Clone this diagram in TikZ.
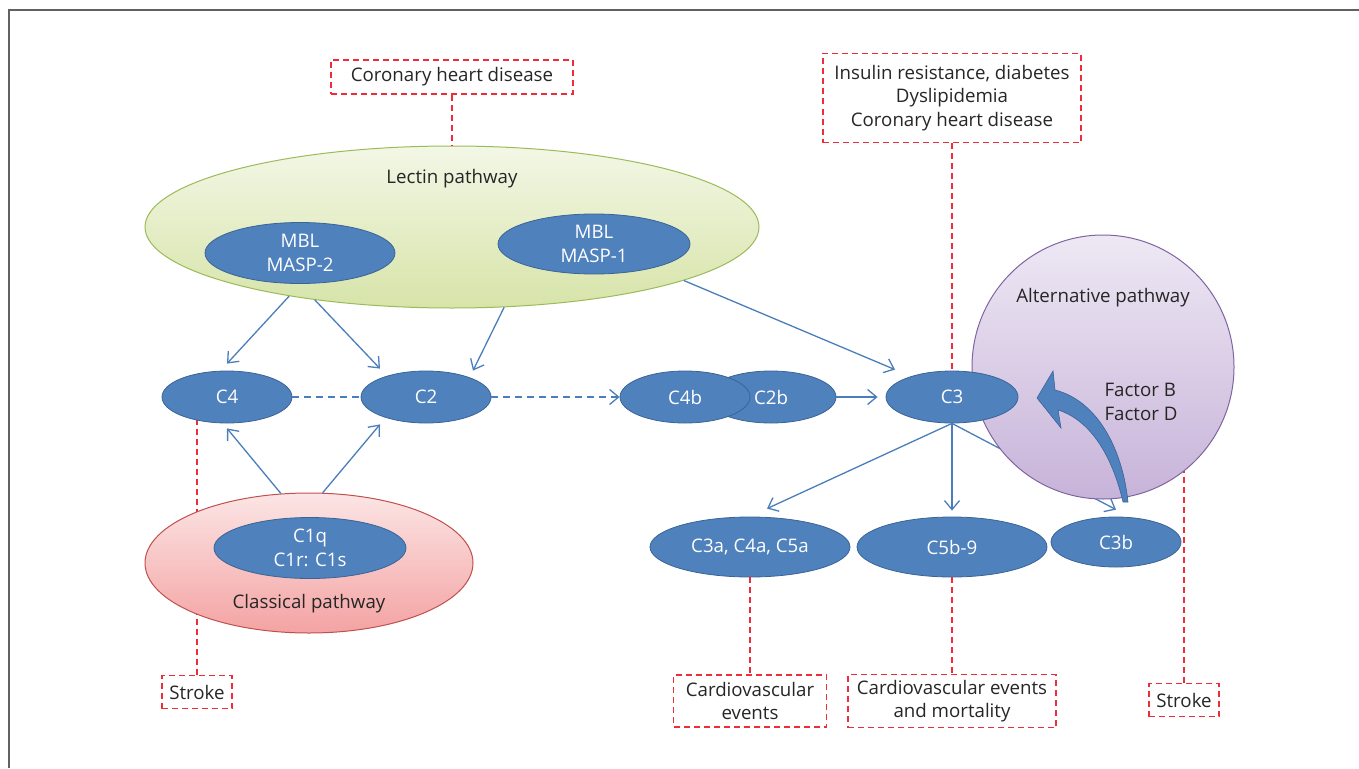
\documentclass[tikz,border=0pt]{standalone}
\usepackage{fontspec}
\setmainfont{Open Sans}
\usetikzlibrary{shapes.geometric,arrows.meta}
\pgfdeclarelayer{back}
\pgfsetlayers{back,main}
\definecolor{cblue}{HTML}{4F81BD}
\definecolor{cblueedge}{HTML}{3A6496}
\definecolor{carrow}{HTML}{4A7EBB}
\definecolor{cred}{HTML}{EE2D3A}
\definecolor{ctext}{HTML}{262626}
\definecolor{lectinedge}{HTML}{9BBB59}
\definecolor{lectintop}{HTML}{F3F7E6}
\definecolor{lectinbot}{HTML}{D7E4A9}
\definecolor{classedge}{HTML}{C0504D}
\definecolor{classtop}{HTML}{FCE5E5}
\definecolor{classbot}{HTML}{F4A3A3}
\definecolor{altedge}{HTML}{8064A2}
\definecolor{alttop}{HTML}{EEE8F4}
\definecolor{altbot}{HTML}{C7B3D9}
\tikzset{
  comp/.style={ellipse, draw=cblueedge, fill=cblue, text=white, inner sep=0pt, align=center, line width=0.8pt},
  pathway/.style={ellipse, inner sep=0pt, line width=1pt},
  disease/.style={draw=cred, dash pattern=on 6pt off 4pt, line width=1.2pt, text=ctext, align=center, inner sep=0pt},
  arr/.style={draw=carrow, line width=1.3pt, -{Straight Barb[length=9pt,width=15pt,line width=1.3pt]}},
  link/.style={draw=cred, dash pattern=on 6pt off 4pt, line width=1.2pt},
}
\begin{document}
\begin{tikzpicture}[x=1pt,y=-1pt,font=\fontsize{18.7}{23.5}\selectfont,text=ctext]
  \useasboundingbox (0,0) rectangle (1359,768);
  \draw[color=black!62, line width=1.8pt] (9,768) -- (9,10) -- (1359,10);

  % pathways
  \node[pathway, draw=lectinedge, top color=lectintop, bottom color=lectinbot, minimum width=614pt, minimum height=162pt] (lectin) at (452,227) {};
  \node (lectinlabel) at (452,179) {Lectin pathway};
  \node[pathway, draw=classedge, top color=classtop, bottom color=classbot, minimum width=328pt, minimum height=140pt] (classical) at (309,563) {};
  \node (classicallabel) at (309,604) {Classical pathway};
  \node[pathway, draw=altedge, top color=alttop, bottom color=altbot, minimum width=262pt, minimum height=264pt] (alt) at (1103,367) {};
  \node (altlabel) at (1103,298) {Alternative pathway};
  \node[align=left] (factors) at (1141,402) {Factor B\\Factor D};

  % components
  \node[comp, minimum width=190pt, minimum height=61pt] (masp2) at (300,253) {MBL\\MASP-2};
  \node[comp, minimum width=192pt, minimum height=60pt] (masp1) at (594,244) {MBL\\MASP-1};
  \node[comp, minimum width=192pt, minimum height=61pt] (c1) at (310,548) {C1q\\C1r: C1s};
  \node[comp, minimum width=130pt, minimum height=52pt] (c4) at (227,397) {C4};
  \node[comp, minimum width=130pt, minimum height=52pt] (c2) at (426,397) {C2};
  \node[comp, minimum width=130pt, minimum height=52pt] (c2b) at (771,397) {C2b};
  \node[comp, minimum width=130pt, minimum height=52pt] (c4b) at (685,397) {C4b};
  \node[comp, minimum width=132pt, minimum height=52pt] (c3) at (952,397) {C3};
  \node[comp, minimum width=200pt, minimum height=60pt] (c3a) at (750,547) {C3a, C4a, C5a};
  \node[comp, minimum width=190pt, minimum height=60pt] (c5b9) at (952,547) {C5b-9};
  \node[comp, minimum width=130pt, minimum height=50pt] (c3b) at (1116,542) {C3b};

  % diseases
  \node[disease, minimum width=242pt, minimum height=34pt] (chd) at (452,77) {Coronary heart disease};
  \node[disease, minimum width=258pt, minimum height=89pt] (insulin) at (952,98) {Insulin resistance, diabetes\\Dyslipidemia\\Coronary heart disease};
  \node[disease, minimum width=70pt, minimum height=33pt] (stroke1) at (197,692) {Stroke};
  \node[disease, minimum width=153pt, minimum height=52pt] (cv1) at (750,701) {Cardiovascular\\events};
  \node[disease, minimum width=208pt, minimum height=53pt] (cv2) at (952,701) {Cardiovascular events\\and mortality};
  \node[disease, minimum width=70pt, minimum height=33pt] (stroke2) at (1184,700) {Stroke};

  \draw[link] (chd.south) -- (lectin.north);
  \draw[link] (c3a.south) -- (cv1.north);
  \draw[link] (c5b9.south) -- (cv2.north);
  \begin{pgfonlayer}{back}
    \draw[link] (insulin.south) -- (c3.center);
    \draw[link] (stroke1.north) -- (stroke1.north |- c4.center);
    \draw[link] (stroke2.north) -- (stroke2.north |- alt.center);
    \draw[arr] (c3.south) -- ([yshift=7pt]c3b.north);
  \end{pgfonlayer}

  % cascade
  \draw[arr] (lectin.203) -- ([yshift=7pt]c4.north);
  \draw[arr] (lectin.208) -- ([xshift=-46pt,yshift=2pt]c2.north);
  \draw[arr] (lectin.303) -- ([xshift=47pt]c2.north);
  \draw[arr] (lectin.347) -- ([xshift=-57pt,yshift=1pt]c3.north);
  \draw[arr] (classical.112) -- ([yshift=-5pt]c4.south);
  \draw[arr] (classical.79) -- ([xshift=-46pt,yshift=-1pt]c2.south);
  \draw[draw=carrow, line width=1.3pt, dash pattern=on 7pt off 5pt] (c4.east) -- (c2.west);
  \draw[arr, dash pattern=on 7pt off 5pt] (c2.east) -- (c4b.west);
  \draw[arr] (c2b.east) -- ([xshift=-8pt]c3.west);
  \draw[arr] (c3.south) -- ([xshift=17pt,yshift=8pt]c3a.north);
  \draw[arr] (c3.south) -- ([yshift=6pt]c5b9.north);

  % curved arrow of factor B and D
  \fill[cblue, draw=cblueedge, line width=0.6pt] (1037,398) -- (1053,371) -- (1055,390)
    .. controls (1095,400) and (1122,445) .. (1128,502) -- (1123,502)
    .. controls (1112,455) and (1090,420) .. (1058,410) -- (1061,428) -- cycle;
\end{tikzpicture}
\end{document}
